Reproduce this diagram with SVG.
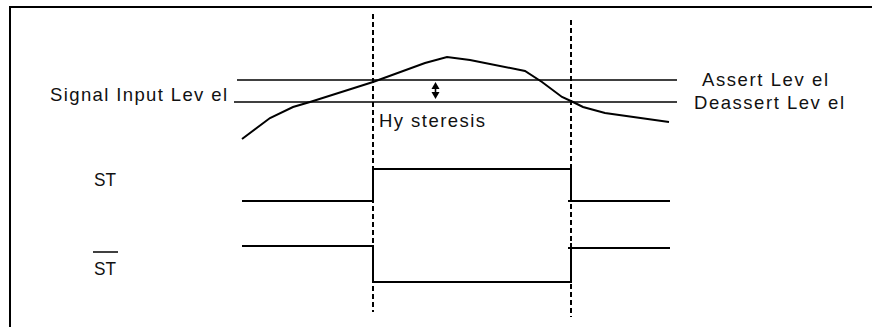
<svg xmlns="http://www.w3.org/2000/svg" width="872" height="327" viewBox="0 0 872 327">
  <style>
    .ln { fill: none; stroke: #000; stroke-width: 2; stroke-linejoin: miter; }
    .lvl { fill: none; stroke: #000; stroke-width: 1.6; }
    .dash { fill: none; stroke: #000; stroke-width: 2; stroke-dasharray: 5 3; }
    .lbl { font-family: "Liberation Sans", Arial, sans-serif; font-size: 18.5px; fill: #111; }
    .head { fill: #000; stroke: none; }
  </style>
  <rect width="872" height="327" fill="#fff"/>
  <g id="frame">
    <path class="ln" d="M10,327 V7 H872"/>
  </g>
  <g id="connectors">
    <line class="dash" x1="373" y1="14" x2="373" y2="312"/>
    <line class="dash" x1="571" y1="20" x2="571" y2="317"/>
    <line class="lvl" x1="237" y1="80" x2="677" y2="80"/>
    <line class="lvl" x1="234" y1="102" x2="677" y2="102"/>
    <g id="hyst-arrow">
      <line x1="435.5" y1="86" x2="435.5" y2="95" stroke="#000" stroke-width="1.6"/>
      <path class="head" d="M435.5,82 L439.5,89 L431.5,89 z"/>
      <path class="head" d="M435.5,99 L439.5,92 L431.5,92 z"/>
    </g>
  </g>
  <g id="signal-curve">
    <polyline class="ln" points="242,139 270,118 293,107 310,102 373,82 425,63 447,57 470,60 525,71 542,82 562,97 573,102 583,107 605,113 669,122"/>
  </g>
  <g id="st-wave">
    <polyline class="ln" points="242,201 373,201 373,169 571,169 571,201"/>
    <line class="ln" x1="568" y1="201" x2="670" y2="201"/>
  </g>
  <g id="stbar-wave">
    <polyline class="ln" points="242,246 373,246 373,282 571,282 571,243"/>
    <line class="ln" x1="568" y1="248" x2="670" y2="248"/>
  </g>
  <g id="label-signal">
    <text class="lbl" x="50" y="100.5" textLength="177" lengthAdjust="spacing">Signal Input Lev el</text>
  </g>
  <g id="label-assert">
    <text class="lbl" x="702" y="86" textLength="126" lengthAdjust="spacing">Assert Lev el</text>
  </g>
  <g id="label-deassert">
    <text class="lbl" x="694" y="108.5" textLength="150" lengthAdjust="spacing">Deassert Lev el</text>
  </g>
  <g id="label-hysteresis">
    <text class="lbl" x="379" y="127" textLength="106" lengthAdjust="spacing">Hy steresis</text>
  </g>
  <g id="label-st">
    <text class="lbl" x="94" y="186" textLength="22" lengthAdjust="spacingAndGlyphs">ST</text>
  </g>
  <g id="label-stbar">
    <text class="lbl" x="94" y="275" textLength="22" lengthAdjust="spacingAndGlyphs">ST</text>
    <line x1="93" y1="252" x2="118" y2="252" stroke="#000" stroke-width="1.5"/>
  </g>
</svg>
